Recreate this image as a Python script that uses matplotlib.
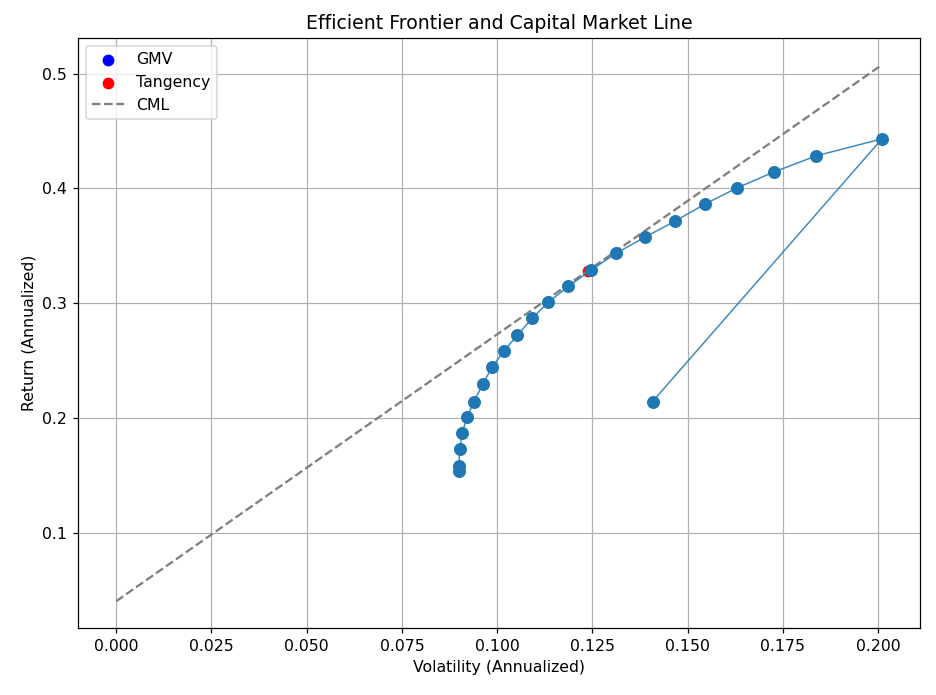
import matplotlib
matplotlib.use("Agg")
import matplotlib.pyplot as plt

plt.rcParams['font.size'] = 10.3

# frontier points (volatility, return), in the order they were computed
vols = [0.0899, 0.0899, 0.0902, 0.0908, 0.0922, 0.0939, 0.0962, 0.0986, 0.1017,
        0.1053, 0.1092, 0.1134, 0.1187, 0.1246, 0.1313, 0.1388, 0.1467, 0.1546,
        0.1629, 0.1727, 0.1837, 0.2010, 0.1408]
rets = [0.154, 0.158, 0.1727, 0.1873, 0.2013, 0.2144, 0.2293, 0.2441, 0.2581,
        0.2721, 0.2869, 0.3009, 0.3148, 0.3288, 0.3437, 0.3576, 0.3716, 0.3865,
        0.4004, 0.4144, 0.4284, 0.4432, 0.2144]

gmv_vol, gmv_ret = 0.0899, 0.154
tan_vol, tan_ret = 0.1239, 0.3285
rf = 0.0405

cml_x = [0.0, 0.2010]
slope = (tan_ret - rf) / tan_vol
cml_y = [rf + slope * v for v in cml_x]

fig = plt.figure(figsize=(937 / 110, 695 / 110), dpi=110)
ax = fig.add_axes([0.0832, 0.0964, 0.8988, 0.8489])

ax.scatter([gmv_vol], [gmv_ret], color='blue', s=45, label='GMV', zorder=2)
ax.scatter([tan_vol], [tan_ret], color='red', s=45, label='Tangency', zorder=2)
ax.plot(cml_x, cml_y, linestyle='--', color='gray', linewidth=1.5, label='CML', zorder=2)
ax.plot(vols, rets, color='tab:blue', linewidth=1.0, alpha=0.85, zorder=3)
ax.plot(vols, rets, 'o', color='tab:blue', markersize=7.5, zorder=4)

ax.set_title('Efficient Frontier and Capital Market Line')
ax.set_xlabel('Volatility (Annualized)')
ax.set_ylabel('Return (Annualized)')
ax.grid(True)
ax.legend(loc='upper left')

plt.savefig('out.png', dpi=110)
